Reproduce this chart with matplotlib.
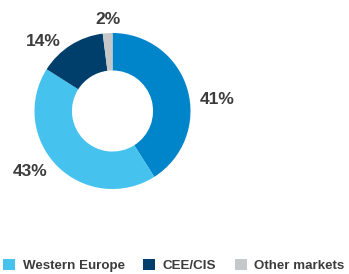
import matplotlib.pyplot as plt
from matplotlib.patches import Patch

# data
shares = [41, 43, 14, 2]
labels = ['', 'Western Europe', 'CEE/CIS', 'Other markets']
colors = ['#0085CA', '#45C2EE', '#003F6B', '#C6C7C8']
# label positions (px offset from donut centre)
label_pos = [(105, 11), (-82, -61), (-69, 70), (-4, 92)]

plt.rcParams['font.family'] = ['Liberation Sans', 'DejaVu Sans']

fig = plt.figure(figsize=(3.49, 2.74), dpi=100)
ax = fig.add_axes([0, 0, 1, 1])

cx, cy = 112.5, 111
R = 78
ax.pie(shares, colors=colors, startangle=90, counterclock=False, radius=R,
       wedgeprops=dict(width=R * 0.48, linewidth=0), center=(0, 0))
ax.set_xlim(-cx, 349 - cx)
ax.set_ylim(-(274 - cy), cy)
ax.set_aspect('equal')
ax.axis('off')

for s, (dx, dy) in zip(shares, label_pos):
    ax.text(dx, dy, f'{s}%', ha='center', va='center', fontsize=12.5,
            fontweight='bold', color='#3c3c3c')

handles = [Patch(facecolor=c, edgecolor='none') for c in colors[1:]]
fig.legend(handles, labels[1:], loc='center left', bbox_to_anchor=(-0.025, 0.03),
           ncol=3, frameon=False, handlelength=0.9, handleheight=0.9,
           handletextpad=0.55, columnspacing=1.4, labelcolor='#3c3c3c',
           prop={'weight': 'bold', 'size': 9.6})

fig.savefig('out.png', dpi=100)
